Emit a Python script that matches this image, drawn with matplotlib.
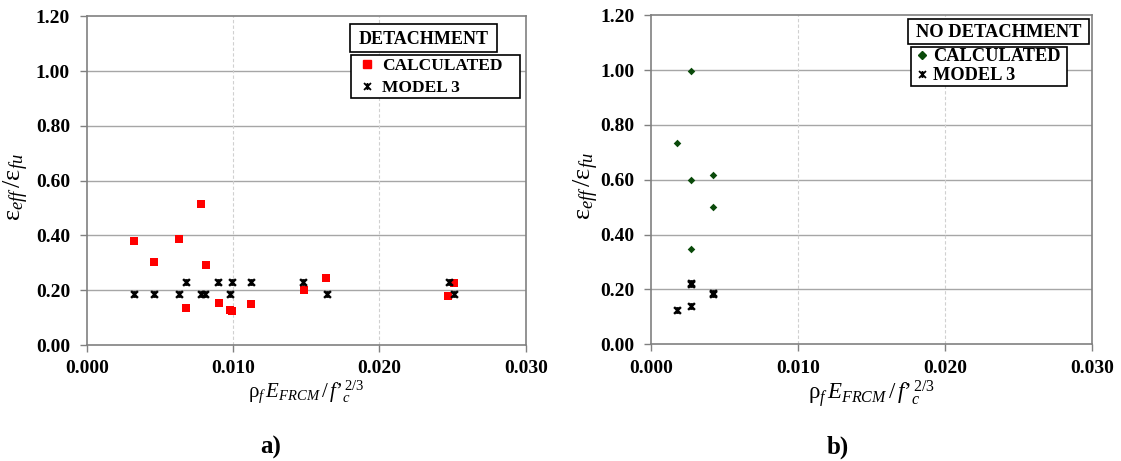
import matplotlib
matplotlib.use("Agg")
import matplotlib.pyplot as plt
from matplotlib.path import Path
from matplotlib.markers import MarkerStyle
from matplotlib.lines import Line2D
from matplotlib.patches import Rectangle

plt.rcParams['font.family'] = ['Liberation Serif', 'DejaVu Serif']
plt.rcParams['mathtext.fontset'] = 'custom'
plt.rcParams['mathtext.rm'] = 'Liberation Serif'
plt.rcParams['mathtext.it'] = 'Liberation Serif:italic'
plt.rcParams['mathtext.bf'] = 'Liberation Serif:bold'

# ---- data (panel a: detachment) ----
x_det_calc = [0.00326, 0.00460, 0.00629, 0.00677, 0.00784, 0.00813, 0.00902,
              0.00980, 0.00993, 0.01123, 0.01485, 0.01638, 0.02469, 0.02508]
y_det_calc = [0.380, 0.304, 0.386, 0.136, 0.513, 0.292, 0.153,
              0.127, 0.124, 0.151, 0.201, 0.245, 0.178, 0.225]
x_det_m3 = [0.00323, 0.00460, 0.00629, 0.00779, 0.00806, 0.00980, 0.01640, 0.02510,
            0.00677, 0.00897, 0.00991, 0.01123, 0.01480, 0.02476]
y_det_m3 = [0.186, 0.186, 0.186, 0.186, 0.186, 0.186, 0.186, 0.186,
            0.229, 0.229, 0.229, 0.229, 0.229, 0.229]

# ---- data (panel b: no detachment) ----
x_nod_calc = [0.0027, 0.0018, 0.0027, 0.0042, 0.0042, 0.0027]
y_nod_calc = [0.998, 0.734, 0.598, 0.617, 0.501, 0.346]
x_nod_m3 = [0.0027, 0.0027, 0.0042, 0.0042, 0.0018, 0.0027]
y_nod_m3 = [0.219, 0.225, 0.183, 0.188, 0.126, 0.138]

x_ticks = [0.000, 0.010, 0.020, 0.030]
x_ticklabels = ["0.000", "0.010", "0.020", "0.030"]
y_ticks = [0.0, 0.2, 0.4, 0.6, 0.8, 1.0, 1.2]
y_ticklabels = ["0.00", "0.20", "0.40", "0.60", "0.80", "1.00", "1.20"]

# star-like marker: x with a vertical bar
star_path = Path([(-1, -1), (1, 1), (-1, 1), (1, -1), (0, -1), (0, 1)],
                 [Path.MOVETO, Path.LINETO, Path.MOVETO, Path.LINETO, Path.MOVETO, Path.LINETO])
star = MarkerStyle(star_path)

W, H = 1121, 461
fig = plt.figure(figsize=(W / 100, H / 100), dpi=100)

def px_rect(x0, x1, ytop, ybot):
    return [x0 / W, 1 - ybot / H, (x1 - x0) / W, (ybot - ytop) / H]

axA = fig.add_axes(px_rect(86.7, 525.7, 16.2, 345.0))
axB = fig.add_axes(px_rect(651.0, 1091.7, 15.3, 344.3))

grid_col = '#a6a6a6'
spine_col = '#808080'

xlabel_txt = r"$\mathrm{ρ}_f\,E_{FRCM}\,/\,f’_c^{\,2/3}$"
ylabel_txt = r"$\mathrm{ε}_{eff}\,/\mathrm{ε}_{fu}$"

for ax, xls, yls, ylc in ((axA, 15, 19, (-0.127, 0.479)), (axB, 16.5, 19, (-0.114, 0.481))):
    ax.set_xlim(0, 0.030)
    ax.set_ylim(0, 1.2)
    ax.set_xticks(x_ticks)
    ax.set_xticklabels(x_ticklabels, fontsize=14, fontweight='bold')
    ax.set_yticks(y_ticks)
    ax.set_yticklabels(y_ticklabels, fontsize=14, fontweight='bold')
    for s in ax.spines.values():
        s.set_color(spine_col)
        s.set_linewidth(1.2)
    ax.tick_params(axis='y', direction='out', length=5, width=1, color=spine_col, pad=7)
    ax.tick_params(axis='x', direction='out', length=5, width=1, color=spine_col, pad=6)
    for yv in y_ticks[1:-1]:
        ax.axhline(yv, color=grid_col, lw=1.0, zorder=0)
    for xv in x_ticks[1:-1]:
        ax.axvline(xv, color='#d0d0d0', lw=0.8, ls=(0, (3, 2)), zorder=0)
    ax.set_xlabel(xlabel_txt, fontsize=xls, labelpad=1)
    ax.set_ylabel(ylabel_txt, fontsize=yls)
    ax.yaxis.set_label_coords(*ylc)

# panel a
axA.scatter(x_det_calc, y_det_calc, marker='s', s=40, color='#ff0000', zorder=3, linewidths=0)
axA.scatter(x_det_m3, y_det_m3, marker=star, s=24, color='black', linewidths=1.7, zorder=4)

# panel b
axB.scatter(x_nod_calc, y_nod_calc, marker='D', s=15, color='#0a4a0a', zorder=3, linewidths=0)
axB.scatter(x_nod_m3, y_nod_m3, marker=star, s=24, color='black', linewidths=1.7, zorder=4)

# legends
def add_legend(ax, title, tbox, tsize, lbox, lsize, calc_handle, hl, htp, lsp, bp):
    x0, x1, y0, y1 = tbox
    fig.patches.append(Rectangle((x0 / W, 1 - y1 / H), (x1 - x0) / W, (y1 - y0) / H,
                                 transform=fig.transFigure, fc='white', ec='black', lw=1.2,
                                 zorder=5))
    fig.text((x0 + x1) / 2 / W, 1 - ((y0 + y1) / 2 + 1) / H, title, fontsize=tsize,
             fontweight='bold', ha='center', va='center', zorder=6)
    h_m3 = Line2D([], [], ls='none', marker=star, markersize=5, color='black', markeredgewidth=1.3)
    lx0, lx1, ly0 = lbox
    leg = ax.legend([calc_handle, h_m3], ["CALCULATED", "MODEL 3"],
                    loc='upper left',
                    bbox_to_anchor=(lx0 / W, 1 - ly0 / H, (lx1 - lx0) / W, 0.0),
                    bbox_transform=fig.transFigure, mode='expand',
                    prop=dict(family='Liberation Serif', weight='bold', size=lsize),
                    frameon=True, fancybox=False, framealpha=1, edgecolor='black',
                    borderpad=bp, handlelength=hl, handletextpad=htp,
                    labelspacing=lsp, borderaxespad=0)
    leg.get_frame().set_linewidth(1.2)

hA = Line2D([], [], ls='none', marker='s', markersize=6, color='#ff0000')
add_legend(axA, "DETACHMENT", (350, 497, 24, 52), 13, (351, 520, 55), 12.5, hA, 1.5, 0.15, 0.33, 0.15)
hB = Line2D([], [], ls='none', marker='D', markersize=4, color='#0a4a0a')
add_legend(axB, "NO DETACHMENT", (908, 1089, 19, 44), 13.3, (911, 1067, 47), 13.2, hB, 1.0, 0.1, 0.1, 0.08)

fig.text(271 / W, 1 - 447 / H, "a)", fontsize=18, fontweight='bold', ha='center', va='center')
fig.text(838 / W, 1 - 447 / H, "b)", fontsize=18, fontweight='bold', ha='center', va='center')

fig.savefig("out.png", dpi=100)
